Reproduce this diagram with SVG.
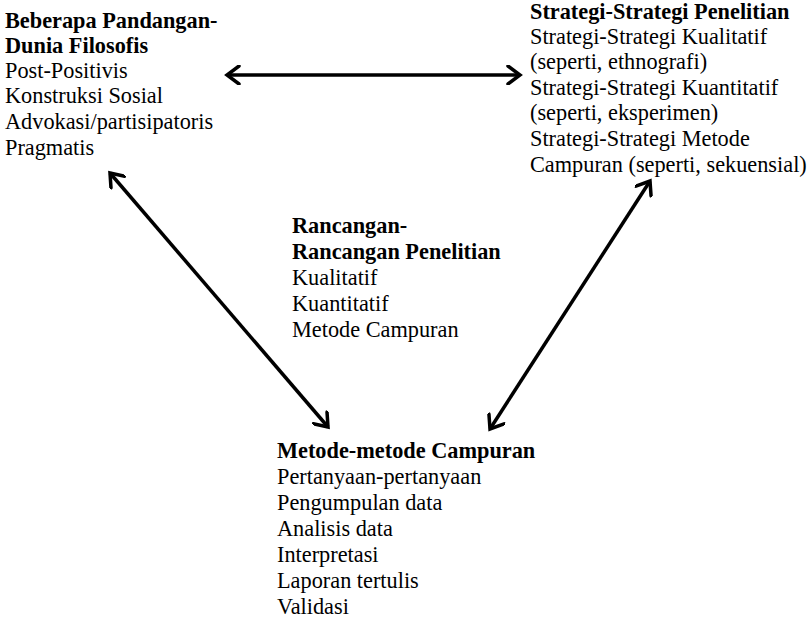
<svg xmlns="http://www.w3.org/2000/svg" width="809" height="618" viewBox="0 0 809 618">
<style>
text{font-family:"Liberation Serif","Times New Roman",serif;font-size:22.3px;fill:#000}
.b{font-weight:bold}
.c{stroke:#000;stroke-width:3.5;fill:none}
</style>
<defs>
<marker id="ah" markerUnits="userSpaceOnUse" viewBox="-16 -10 20 20" markerWidth="20" markerHeight="20" refX="0" refY="0" orient="auto-start-reverse">
<path d="M-12,-9 L0,0 L-12,9" fill="none" stroke="#000" stroke-width="3.5" stroke-linecap="round" stroke-linejoin="miter"/>
</marker>
</defs>
<g id="connectors">
<line class="c" x1="227" y1="75" x2="520" y2="75" marker-start="url(#ah)" marker-end="url(#ah)"/>
<line class="c" x1="110" y1="173" x2="328" y2="427" marker-start="url(#ah)" marker-end="url(#ah)"/>
<line class="c" x1="650" y1="181" x2="490" y2="429" marker-start="url(#ah)" marker-end="url(#ah)"/>
</g>
<g id="filosofis">
<text x="5" y="28" class="b">Beberapa Pandangan-</text>
<text x="5" y="53" class="b">Dunia Filosofis</text>
<text x="5" y="78">Post-Positivis</text>
<text x="5" y="103">Konstruksi Sosial</text>
<text x="5" y="129">Advokasi/partisipatoris</text>
<text x="5" y="155">Pragmatis</text>
</g>
<g id="strategi">
<text x="530" y="19" class="b">Strategi-Strategi Penelitian</text>
<text x="530" y="44">Strategi-Strategi Kualitatif</text>
<text x="530" y="69">(seperti, ethnografi)</text>
<text x="530" y="95">Strategi-Strategi Kuantitatif</text>
<text x="530" y="120">(seperti, eksperimen)</text>
<text x="530" y="146">Strategi-Strategi Metode</text>
<text x="530" y="172">Campuran (seperti, sekuensial)</text>
</g>
<g id="rancangan">
<text x="292" y="233" class="b">Rancangan-</text>
<text x="292" y="259" class="b">Rancangan Penelitian</text>
<text x="292" y="285">Kualitatif</text>
<text x="292" y="311">Kuantitatif</text>
<text x="292" y="337">Metode Campuran</text>
</g>
<g id="metode">
<text x="277" y="458" class="b">Metode-metode Campuran</text>
<text x="277" y="484">Pertanyaan-pertanyaan</text>
<text x="277" y="510">Pengumpulan data</text>
<text x="277" y="536">Analisis data</text>
<text x="277" y="562">Interpretasi</text>
<text x="277" y="588">Laporan tertulis</text>
<text x="277" y="614">Validasi</text>
</g>
</svg>
